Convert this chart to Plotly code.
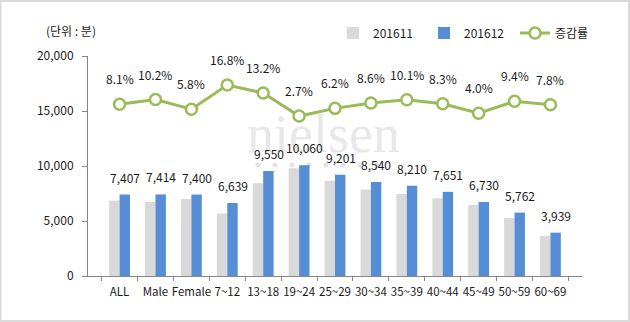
import plotly.graph_objects as go

categories = ["ALL", "Male", "Female", "7~12", "13~18", "19~24", "25~29", "30~34",
              "35~39", "40~44", "45~49", "50~59", "60~69"]
nov_values = [6852, 6728, 6994, 5684, 8436, 9796, 8664, 7864, 7457, 7065, 6471, 5267, 3654]
dec_values = [7407, 7414, 7400, 6639, 9550, 10060, 9201, 8540, 8210, 7651, 6730, 5762, 3939]
growth_pct = [8.1, 10.2, 5.8, 16.8, 13.2, 2.7, 6.2, 8.6, 10.1, 8.3, 4.0, 9.4, 7.8]
y_ticks = [0, 5000, 10000, 15000, 20000]
y_tick_labels = ["0", "5,000", "10,000", "15,000", "20,000"]

FONT = "Noto Sans CJK KR, Noto Sans, sans-serif"
GRAY = "#D9D9D9"
BLUE = "#558ED5"
GREEN = "#9BBB59"
AXIS = "#868686"
TXT = "#1a1a1a"

W, H = 630, 322
L, R, T, B = 88, 48, 56, 46
PW, PH = W - L - R, H - T - B

def px_x(p):
    return (p - L) / PW

def px_y(p):
    return (H - B - p) / PH

fig = go.Figure()
fig.add_trace(go.Bar(name="201611", x=categories, y=nov_values, marker_color=GRAY,
                     marker_line_width=0))
fig.add_trace(go.Bar(name="201612", x=categories, y=dec_values, marker_color=BLUE,
                     marker_line_width=0))
fig.add_trace(go.Scatter(name="증감률", x=categories, y=growth_pct, yaxis="y2",
                         mode="lines+markers",
                         line=dict(color=GREEN, width=3),
                         marker=dict(symbol="circle", size=11, color="white",
                                     line=dict(color=GREEN, width=2.5))))

annotations = []
# watermark (drawn first so it sits under other texts)
annotations.append(dict(x=px_x(323), y=px_y(134), xref="paper", yref="paper",
                        text="nielsen", showarrow=False, xanchor="center", yanchor="middle",
                        font=dict(family="Liberation Serif, DejaVu Serif, serif", size=54,
                                  color="rgba(205,205,205,0.45)")))
# bar value labels (201612)
for c, v in zip(categories, dec_values):
    annotations.append(dict(x=c, y=v, xref="x", yref="y", text=f"{v:,}",
                            showarrow=False, yanchor="bottom", xshift=5.5, yshift=7,
                            font=dict(family=FONT, size=12, color=TXT)))
# growth labels
for c, g in zip(categories, growth_pct):
    annotations.append(dict(x=c, y=g, xref="x", yref="y2", text=f"{g:.1f}%",
                            showarrow=False, yanchor="bottom", yshift=15,
                            font=dict(family=FONT, size=12, color=TXT)))
# unit label
annotations.append(dict(x=px_x(44), y=px_y(30), xref="paper", yref="paper",
                        text="(단위 : 분)", showarrow=False, xanchor="left",
                        yanchor="middle", font=dict(family=FONT, size=12, color=TXT)))

shapes = [dict(type="rect", xref="paper", yref="paper",
               x0=px_x(0.5), x1=px_x(629), y0=px_y(321), y1=px_y(1),
               line=dict(color="#DADADA", width=2), fillcolor="rgba(0,0,0,0)",
               layer="below")]
# watermark dots
for i in range(8):
    cx = 258 + 17 * i
    shapes.append(dict(type="circle", xref="paper", yref="paper",
                       x0=px_x(cx - 2.5), x1=px_x(cx + 2.5),
                       y0=px_y(165 + 2.5), y1=px_y(165 - 2.5),
                       line=dict(width=0), fillcolor="rgba(215,215,215,0.7)",
                       layer="below"))

fig.update_layout(
    width=W, height=H,
    margin=dict(l=L, r=R, t=T, b=B, pad=0, autoexpand=False),
    paper_bgcolor="white", plot_bgcolor="white",
    barmode="group", bargap=0.42, bargroupgap=0,
    font=dict(family=FONT, size=12, color=TXT),
    showlegend=True,
    legend=dict(orientation="h", x=px_x(333), y=px_y(33), xanchor="left", yanchor="middle",
                bgcolor="rgba(0,0,0,0)", font=dict(family=FONT, size=12, color=TXT),
                entrywidth=46, entrywidthmode="pixels", itemwidth=30, tracegroupgap=0),
    xaxis=dict(type="category", showline=True, linecolor=AXIS, linewidth=1,
               ticks="outside", tickson="boundaries", ticklen=4, tickcolor=AXIS,
               showgrid=False, tickangle=0, automargin=False, ticklabelstandoff=5,
               tickfont=dict(family=FONT, size=11.5, color=TXT)),
    yaxis=dict(range=[0, 20000], tickvals=y_ticks, ticktext=y_tick_labels,
               showline=True, linecolor=AXIS, linewidth=1, ticks="outside", ticklen=5,
               tickcolor=AXIS, showgrid=False, zeroline=False, automargin=False,
               ticklabelstandoff=6,
               tickfont=dict(family=FONT, size=12, color=TXT)),
    yaxis2=dict(overlaying="y", range=[-70, 30], visible=False, showgrid=False,
                zeroline=False),
    annotations=annotations,
    shapes=shapes,
)

fig.write_html("out.html")
